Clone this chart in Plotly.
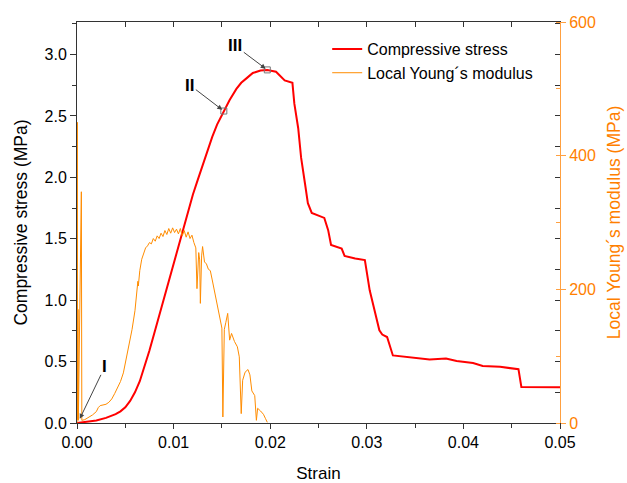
import plotly.graph_objects as go

# ---- Data ----
stress_strain = [0, 0.001, 0.002, 0.003, 0.004, 0.0045, 0.005, 0.0055, 0.006, 0.0065,
                 0.007, 0.0075, 0.008, 0.0085, 0.009, 0.0095, 0.010, 0.0105, 0.011, 0.0115,
                 0.012, 0.0125, 0.013, 0.0135, 0.014, 0.0145, 0.0152, 0.0158, 0.0165, 0.0170,
                 0.0176, 0.0182, 0.0190, 0.0197, 0.0206, 0.0210, 0.0215, 0.0223, 0.0225,
                 0.0229, 0.0232, 0.0236, 0.0239, 0.0243, 0.0250, 0.0256, 0.0260, 0.0263,
                 0.0274, 0.0277, 0.0288, 0.0293, 0.0298, 0.0303, 0.0308, 0.0313, 0.0316,
                 0.0321, 0.0327, 0.0341, 0.0351, 0.0365, 0.0382, 0.0393, 0.0410, 0.0420,
                 0.0438, 0.0448, 0.0457, 0.0460, 0.0472, 0.0500]
stress = [0, 0.008, 0.02, 0.042, 0.072, 0.095, 0.128, 0.18, 0.25, 0.34,
          0.46, 0.59, 0.73, 0.87, 1.01, 1.16, 1.31, 1.45, 1.59, 1.72,
          1.86, 1.98, 2.10, 2.22, 2.33, 2.43, 2.54, 2.63, 2.72, 2.77,
          2.81, 2.85, 2.87, 2.875, 2.86, 2.83, 2.79, 2.77, 2.60,
          2.40, 2.16, 1.95, 1.79, 1.71, 1.69, 1.67, 1.57, 1.45,
          1.42, 1.36, 1.34, 1.33, 1.326, 1.08, 0.92, 0.755, 0.72,
          0.70, 0.55, 0.538, 0.533, 0.517, 0.525, 0.505, 0.489, 0.465,
          0.457, 0.448, 0.438, 0.293, 0.291, 0.291]

modulus_strain = [0, 0.00003, 0.00006, 0.0001, 0.00014, 0.00045, 0.0005, 0.0008, 0.0012, 0.0016,
                  0.002, 0.0022, 0.0024, 0.0027, 0.003, 0.0033, 0.0036, 0.0039, 0.0042, 0.0045,
                  0.0048, 0.0051, 0.0054, 0.0057, 0.0060, 0.0062, 0.0063, 0.00635, 0.0065, 0.0067,
                  0.0069, 0.0071, 0.0073, 0.0075, 0.0077, 0.0079, 0.0081, 0.0083, 0.0085, 0.0087,
                  0.0089, 0.0091, 0.0093, 0.0095, 0.0097, 0.0099, 0.0101, 0.0103, 0.0105, 0.0107,
                  0.0109, 0.0111, 0.0113, 0.0115, 0.0117, 0.0119, 0.0121, 0.0123, 0.01242, 0.0126,
                  0.0127, 0.01277, 0.0129, 0.0130, 0.0132, 0.0134, 0.0136, 0.0138, 0.0140, 0.0142,
                  0.0144, 0.0146, 0.0148, 0.0150, 0.0151, 0.01525, 0.0154, 0.0156, 0.0158, 0.0160,
                  0.0163, 0.0166, 0.0168, 0.0170, 0.01715, 0.0174, 0.0177, 0.0179, 0.0181, 0.0184,
                  0.01857, 0.0187, 0.0190, 0.0193, 0.0195, 0.0197]
modulus = [0, 450, 5, 170, 4, 346, 4, 5, 8, 12,
           17, 23, 26, 27, 28, 31, 36, 44, 52, 62,
           75, 95, 115, 140, 168, 195, 212, 205, 228, 245,
           253, 262, 265, 270, 268, 276, 272, 280, 276, 284,
           279, 288, 282, 291, 284, 292, 285, 290, 283, 291,
           280, 288, 278, 286, 276, 281, 270, 262, 201, 255,
           244, 179, 250, 264, 241, 238, 230, 228, 214, 200,
           184, 170, 154, 142, 9, 140, 150, 164, 124, 134,
           122, 114, 99, 14, 64, 76, 80, 72, 48, 41,
           4, 22, 18, 13, 7, 1]

point_labels = ["I", "II", "III"]
point_strain = [0.0002, 0.0152, 0.0197]
point_stress = [0.02, 2.54, 2.875]

x_ticks = [0, 0.01, 0.02, 0.03, 0.04, 0.05]
y_left_ticks = [0.0, 0.5, 1.0, 1.5, 2.0, 2.5, 3.0]
y_right_ticks = [0, 200, 400, 600]

RED = "#FF0000"
ORANGE = "#FF8C00"
ORANGE_TXT = "#FF7F00"
AXC = "#333333"
FONT = "Liberation Sans, Arial, sans-serif"

fig = go.Figure()

fig.add_trace(go.Scatter(x=modulus_strain, y=modulus, mode="lines",
                         line=dict(color=ORANGE, width=1),
                         name="Local Young\u00b4s modulus", yaxis="y2"))
fig.add_trace(go.Scatter(x=stress_strain, y=stress, mode="lines",
                         line=dict(color=RED, width=2),
                         name="Compressive stress", yaxis="y"))
fig.add_trace(go.Scatter(x=point_strain[1:], y=point_stress[1:], mode="markers",
                         marker=dict(symbol="square-open", size=6, color="#777777",
                                     line=dict(width=1)),
                         showlegend=False, yaxis="y"))
# invisible trace so the mirror axes (top x ticks, right inner y ticks) are drawn
fig.add_trace(go.Scatter(x=[-1], y=[-1], xaxis="x2", yaxis="y3", mode="markers",
                         marker=dict(opacity=0), showlegend=False, hoverinfo="skip"))

offsets = {"I": (26, -54), "II": (-34, -26), "III": (-32, -24)}
for lab, sx, sy in zip(point_labels, point_strain, point_stress):
    ax, ay = offsets[lab]
    fig.add_annotation(x=sx, y=sy, xref="x", yref="y", text="<b>%s</b>" % lab,
                       showarrow=True, ax=ax, ay=ay, arrowhead=2, arrowsize=1,
                       arrowwidth=1, arrowcolor="#444444", standoff=2,
                       font=dict(family=FONT, size=17, color="black"))

fig.update_layout(
    width=627, height=483,
    margin=dict(l=77, r=67, t=22, b=60),
    paper_bgcolor="white", plot_bgcolor="white",
    font=dict(family=FONT, size=16, color="black"),
    showlegend=True,
    legend=dict(x=0.518, y=0.975, xanchor="left", yanchor="top",
                bgcolor="rgba(0,0,0,0)", font=dict(size=16),
                traceorder="reversed", tracegroupgap=0),
    xaxis=dict(range=[0, 0.05], tickvals=x_ticks, tickformat=".2f", automargin=False,
               showgrid=False, zeroline=False, showline=True, linecolor=AXC,
               linewidth=1, ticks="outside", ticklen=5, tickcolor=AXC,
               tickfont=dict(size=16),
               minor=dict(dtick=0.005, ticks="outside", ticklen=4, tickcolor=AXC),
               title=dict(text="Strain", font=dict(size=17), standoff=16),
               anchor="y"),
    yaxis=dict(range=[0, 3.265], tickvals=y_left_ticks, tickformat=".1f", automargin=False,
               showgrid=False, zeroline=False, showline=True, linecolor=AXC,
               linewidth=1, ticks="outside", ticklen=6, tickcolor=AXC,
               tickfont=dict(size=16),
               minor=dict(dtick=0.25, ticks="outside", ticklen=4, tickcolor=AXC),
               title=dict(text="Compressive stress (MPa)", font=dict(size=17.5), standoff=12),
               anchor="x"),
    yaxis2=dict(range=[0, 600], tickvals=y_right_ticks, overlaying="y", side="right",
                anchor="x", automargin=False, showgrid=False, zeroline=False, showline=True,
                linecolor="#FFA040", linewidth=1, ticks="outside", ticklen=5,
                tickcolor="#FFA040", tickfont=dict(color=ORANGE_TXT, size=16),
                minor=dict(dtick=100, ticks="inside", ticklen=4, tickcolor="#FFA040"),
                title=dict(text="Local Young\u00b4s modulus (MPa)",
                           font=dict(size=17.5, color=ORANGE_TXT), standoff=12)),
    xaxis2=dict(range=[0, 0.05], overlaying="x", side="top", anchor="y", automargin=False,
                showgrid=False, zeroline=False, showline=True, linecolor=AXC,
                linewidth=1, ticks="inside", ticklen=5, tickcolor=AXC, tickwidth=1,
                tickvals=[0.005 * i for i in range(11)], showticklabels=False),
    yaxis3=dict(range=[0, 3.265], overlaying="y", side="right", anchor="x", automargin=False,
                showgrid=False, zeroline=False, showline=False,
                ticks="inside", ticklen=5, tickcolor=AXC, tickwidth=1,
                tickvals=[0.25 * i for i in range(14)], showticklabels=False),
)

fig.write_html("out.html")
